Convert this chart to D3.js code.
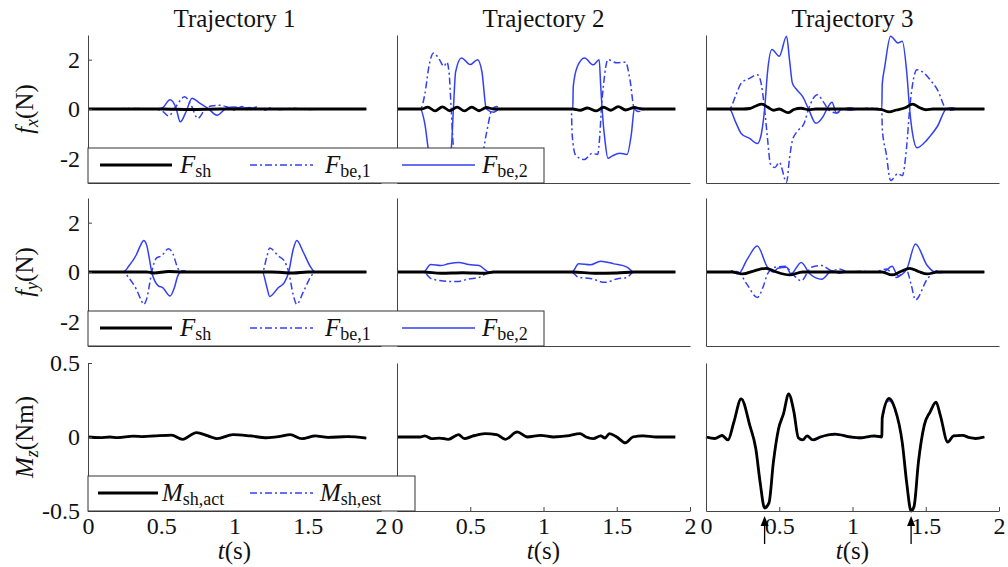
<!DOCTYPE html>
<html lang="en">
<head>
<meta charset="utf-8">
<title>Trajectory forces and moments</title>
<script src="https://d3js.org/d3.v7.min.js"></script>
<style>
  body { margin: 0; background: #fff; }
  svg { width: 1008px; height: 567px; display: block; }
  svg text { font-family: "Liberation Serif", "DejaVu Serif"; fill: #111; }
  .domain, .tick line { stroke: #444; }
</style>
</head>
<body>
<svg></svg>
<script>
// ---- tick labels / categories ----
const titles = ["Trajectory 1", "Trajectory 2", "Trajectory 3"];
const xTicks = [0, 0.5, 1, 1.5, 2];
const forceTicks = [-2, 0, 2];
const momentTicks = [-0.5, 0, 0.5];
const arrowTimes = [0.4, 1.4];   // marked instants in trajectory 3

// ---- series, [t (s), value] ----
// trajectory 1, f_x
const t1FxSh  = [[0,0],[0.5,0],[0.7,-0.02],[0.9,0],[1.9,0]];
const t1FxBe1 = [[0,0],[0.15,0],[0.3,0.02],[0.45,0],[0.51,-0.1],[0.55,-0.28],[0.6,0.1],[0.66,0.5],[0.7,0.2],[0.75,-0.38],[0.79,-0.1],[0.84,0.12],[0.9,0.15],[0.95,0.08],[1.0,-0.05],[1.05,0.1],[1.1,-0.05],[1.15,0.08],[1.2,-0.05],[1.25,0.05],[1.3,-0.03],[1.4,0.03],[1.5,-0.02],[1.6,0],[1.9,0]];
const t1FxBe2 = [[0,0],[0.48,0],[0.51,0.05],[0.56,0.37],[0.6,0.05],[0.63,-0.52],[0.67,-0.1],[0.71,0.44],[0.76,0.25],[0.82,0.02],[0.88,-0.25],[0.95,0.05],[1.0,0.08],[1.05,0.02],[1.1,0.06],[1.15,0],[1.9,0]];
// trajectory 1, f_y
const t1FySh  = [[0,0],[0.4,0],[0.45,-0.04],[0.55,0.02],[0.65,0],[1.25,0],[1.4,-0.04],[1.5,0],[1.9,0]];
const t1FyBe1 = [[0,0],[0.24,0],[0.28,-0.25],[0.33,-0.7],[0.36,-1.1],[0.38,-1.31],[0.40,-1.1],[0.42,-0.5],[0.435,0],[0.47,0.58],[0.5,0.65],[0.55,0.94],[0.58,0.73],[0.61,0.2],[0.63,0],[0.65,0.05],[0.68,0],[1.19,0],[1.22,0.6],[1.24,0.97],[1.3,0.65],[1.34,0.45],[1.37,0],[1.4,-0.9],[1.425,-1.31],[1.47,-0.8],[1.52,-0.2],[1.55,0],[1.9,0]];
const t1FyBe2 = [[0,0],[0.24,0],[0.28,0.25],[0.33,0.7],[0.36,1.1],[0.38,1.28],[0.40,1.1],[0.42,0.5],[0.435,0],[0.48,-0.56],[0.51,-0.63],[0.56,-0.97],[0.59,-0.63],[0.61,-0.2],[0.63,0],[0.65,0.05],[0.68,0],[1.19,0],[1.22,-0.6],[1.24,-0.99],[1.3,-0.63],[1.34,-0.43],[1.37,0],[1.4,0.9],[1.425,1.28],[1.47,0.8],[1.52,0.2],[1.55,0],[1.9,0]];
// trajectory 1, M_z
const t1MzAct = [[0,0],[0.08,-0.004],[0.15,0],[0.2,-0.004],[0.31,0.006],[0.38,0.003],[0.45,0.007],[0.57,0.013],[0.646,-0.016],[0.74,0.03],[0.82,0.007],[0.88,-0.011],[0.99,0.016],[1.11,0.007],[1.22,-0.005],[1.31,0.004],[1.38,0.016],[1.46,-0.011],[1.55,0.007],[1.64,-0.002],[1.77,0.002],[1.9,-0.007]];
const t1MzEst = [[0,0.002],[0.08,-0.002],[0.15,0.002],[0.2,-0.006],[0.31,0.004],[0.38,0.006],[0.45,0.004],[0.57,0.01],[0.646,-0.012],[0.74,0.028],[0.82,0.004],[0.88,-0.014],[0.99,0.013],[1.11,0.01],[1.22,-0.008],[1.31,0.007],[1.38,0.013],[1.46,-0.014],[1.55,0.004],[1.64,-0.005],[1.77,0.005],[1.9,-0.004]];

// trajectory 2, f_x
const t2FxSh  = [[0,0],[0.17,0],[0.21,0.08],[0.26,-0.08],[0.31,0.09],[0.36,-0.07],[0.41,0.08],[0.46,-0.08],[0.51,0.08],[0.56,-0.07],[0.61,0.06],[0.66,0],[1.2,0],[1.25,-0.05],[1.3,0.04],[1.36,-0.08],[1.41,0.07],[1.46,-0.05],[1.51,0.1],[1.56,-0.04],[1.62,0.06],[1.67,0],[1.9,0]];
const t2FxBe1 = [[0,0],[0.16,0],[0.19,0.6],[0.22,1.8],[0.25,2.27],[0.29,2.0],[0.32,1.73],[0.34,1.9],[0.355,1.5],[0.37,0],[0.385,-1.5],[0.41,-2.0],[0.45,-2.2],[0.5,-1.85],[0.55,-2.1],[0.58,-1.9],[0.61,-1.0],[0.65,0],[0.68,0.1],[0.72,0],[1.19,0],[1.195,-1.0],[1.22,-1.88],[1.28,-2.05],[1.33,-1.8],[1.37,-1.84],[1.385,-1.0],[1.395,0],[1.41,1.0],[1.44,2.0],[1.5,1.87],[1.56,1.9],[1.59,1.2],[1.62,0],[1.65,-0.1],[1.7,0],[1.9,0]];
const t2FxBe2 = [[0,0],[0.16,0],[0.19,-0.6],[0.22,-1.8],[0.26,-2.1],[0.3,-1.85],[0.34,-2.05],[0.37,-1.6],[0.385,0],[0.40,1.5],[0.44,2.07],[0.5,1.8],[0.55,2.0],[0.58,1.5],[0.61,0],[0.66,-0.13],[0.7,0],[1.2,0],[1.203,0.9],[1.23,1.7],[1.28,2.07],[1.34,1.79],[1.38,2.0],[1.39,1.0],[1.40,0],[1.42,-1.3],[1.44,-2.0],[1.47,-1.9],[1.52,-1.79],[1.57,-1.84],[1.6,-1.0],[1.62,0],[1.65,0.05],[1.7,0],[1.9,0]];
// trajectory 2, f_y
const t2FySh  = [[0,0],[0.18,0],[0.3,-0.05],[0.45,-0.03],[0.6,-0.05],[0.66,0],[1.2,0],[1.35,-0.05],[1.5,-0.04],[1.62,0],[1.9,0]];
const t2FyBe1 = [[0,0],[0.18,0],[0.23,-0.26],[0.30,-0.35],[0.41,-0.39],[0.49,-0.28],[0.56,-0.22],[0.61,-0.05],[0.625,0],[1.19,0],[1.24,-0.22],[1.32,-0.26],[1.42,-0.42],[1.50,-0.28],[1.57,-0.22],[1.615,0],[1.9,0]];
const t2FyBe2 = [[0,0],[0.18,0],[0.23,0.3],[0.30,0.26],[0.35,0.33],[0.42,0.39],[0.49,0.3],[0.56,0.26],[0.61,0.05],[0.625,0],[1.195,0],[1.24,0.33],[1.32,0.29],[1.39,0.44],[1.48,0.33],[1.57,0.2],[1.615,0],[1.9,0]];
// trajectory 2, M_z
const t2MzAct = [[0,0],[0.157,0],[0.19,0.007],[0.237,-0.011],[0.29,-0.007],[0.35,-0.016],[0.42,0.016],[0.46,-0.011],[0.52,0.007],[0.6,0.023],[0.68,0.016],[0.74,-0.016],[0.82,0.034],[0.89,0],[0.98,0.011],[1.07,0],[1.16,0.007],[1.25,0.023],[1.29,0],[1.34,-0.011],[1.39,0.007],[1.42,-0.007],[1.45,0.023],[1.5,0],[1.56,-0.04],[1.61,0],[1.68,0.007],[1.77,0],[1.9,0]];
const t2MzEst = [[0,0.002],[0.157,0.002],[0.19,0.01],[0.237,-0.014],[0.29,-0.004],[0.35,-0.012],[0.42,0.013],[0.46,-0.008],[0.52,0.01],[0.6,0.02],[0.68,0.012],[0.74,-0.013],[0.82,0.03],[0.89,0.003],[0.98,0.008],[1.07,0.003],[1.16,0.01],[1.25,0.02],[1.29,0.004],[1.34,-0.008],[1.39,0.01],[1.42,-0.004],[1.45,0.02],[1.5,0.004],[1.56,-0.035],[1.61,0.003],[1.68,0.01],[1.77,0.002],[1.9,0.001]];

// trajectory 3, f_x
const t3FxSh  = [[0,0],[0.25,0],[0.3,0.02],[0.34,0.12],[0.38,0.2],[0.42,0.08],[0.46,-0.05],[0.5,0],[0.56,-0.15],[0.6,-0.02],[0.65,0.03],[0.7,-0.03],[0.75,0],[1.15,0],[1.2,-0.03],[1.25,-0.12],[1.3,-0.04],[1.36,0.05],[1.41,0.2],[1.46,0.05],[1.5,-0.03],[1.55,0],[1.9,0]];
const t3FxBe1 = [[0,0],[0.16,0],[0.2,0.5],[0.24,1.04],[0.30,1.25],[0.35,1.39],[0.37,1.2],[0.40,0],[0.42,-1.2],[0.44,-2.23],[0.47,-2.37],[0.50,-2.16],[0.55,-2.97],[0.57,-2.0],[0.59,-1.27],[0.62,-0.93],[0.67,-0.58],[0.70,0],[0.76,0.58],[0.8,0.3],[0.84,-0.05],[0.89,-0.16],[0.94,0],[0.98,0.05],[1.05,0],[1.1,0.03],[1.2,0],[1.203,-0.8],[1.23,-1.8],[1.26,-2.9],[1.31,-2.62],[1.34,-2.7],[1.37,-1.5],[1.39,0],[1.41,1.0],[1.44,1.59],[1.49,1.45],[1.53,1.18],[1.58,0.78],[1.64,0],[1.67,-0.05],[1.72,0],[1.9,0]];
const t3FxBe2 = [[0,0],[0.16,0],[0.2,-0.5],[0.24,-0.99],[0.30,-1.2],[0.35,-1.4],[0.37,-1.2],[0.40,0],[0.42,1.5],[0.45,2.41],[0.50,2.14],[0.55,2.95],[0.57,2.0],[0.59,1.04],[0.62,0.78],[0.66,0.5],[0.70,0],[0.75,-0.58],[0.8,-0.3],[0.83,0.05],[0.86,0.27],[0.89,-0.16],[0.93,0],[0.98,-0.05],[1.05,0],[1.2,0],[1.203,1.0],[1.22,1.7],[1.26,2.95],[1.31,2.68],[1.34,2.75],[1.37,1.5],[1.39,0],[1.41,-1.0],[1.44,-1.57],[1.49,-1.37],[1.53,-1.1],[1.58,-0.7],[1.64,0],[1.68,0.05],[1.72,0],[1.9,0]];
// trajectory 3, f_y
const t3FySh  = [[0,0],[0.18,0],[0.25,-0.08],[0.33,0.05],[0.41,0.15],[0.47,0.02],[0.57,-0.12],[0.66,0],[1.2,0],[1.27,-0.12],[1.33,0.02],[1.39,0.15],[1.45,0.02],[1.51,-0.08],[1.58,0],[1.9,0]];
const t3FyBe1 = [[0,0],[0.16,0],[0.18,0.05],[0.22,0],[0.28,-0.5],[0.35,-1.03],[0.39,-0.6],[0.42,-0.08],[0.47,0.19],[0.54,0.23],[0.59,-0.08],[0.65,-0.35],[0.72,0.19],[0.79,0.26],[0.86,0.05],[0.91,0.12],[0.97,0],[1.05,0.03],[1.15,0],[1.23,0.12],[1.30,-0.22],[1.37,0.05],[1.40,-0.5],[1.43,-1.13],[1.51,-0.29],[1.58,0.05],[1.62,0],[1.9,0]];
const t3FyBe2 = [[0,0],[0.18,0],[0.22,-0.08],[0.28,0.5],[0.35,1.05],[0.42,0.19],[0.46,0],[0.49,0.15],[0.55,0.19],[0.58,-0.08],[0.65,0.39],[0.71,-0.08],[0.79,-0.29],[0.86,0.05],[0.91,-0.05],[0.96,0],[1.21,0],[1.27,0.23],[1.31,-0.15],[1.37,0.12],[1.43,1.14],[1.51,0.26],[1.56,0],[1.6,-0.03],[1.65,0],[1.9,0]];
// trajectory 3, M_z
const t3MzAct = [[0,0],[0.06,-0.01],[0.11,0.01],[0.15,-0.02],[0.19,0.1],[0.24,0.258],[0.30,0.075],[0.34,-0.08],[0.37,-0.31],[0.40,-0.48],[0.43,-0.445],[0.46,-0.17],[0.495,0.054],[0.53,0.16],[0.564,0.292],[0.60,0.17],[0.63,-0.005],[0.66,-0.02],[0.69,0.007],[0.73,-0.02],[0.78,0],[0.88,0.02],[0.99,0],[1.05,-0.005],[1.15,0.007],[1.2,0],[1.203,0.13],[1.25,0.26],[1.29,0.19],[1.34,-0.04],[1.37,-0.31],[1.40,-0.5],[1.42,-0.47],[1.45,-0.17],[1.49,0.08],[1.53,0.17],[1.57,0.236],[1.60,0.145],[1.65,-0.035],[1.69,0.007],[1.75,0.011],[1.80,-0.005],[1.84,-0.01],[1.9,0]];
const t3MzEst = [[0,0.003],[0.06,-0.008],[0.11,0.012],[0.15,-0.016],[0.19,0.105],[0.24,0.265],[0.30,0.08],[0.34,-0.075],[0.37,-0.3],[0.40,-0.47],[0.43,-0.44],[0.46,-0.165],[0.495,0.06],[0.53,0.165],[0.564,0.285],[0.60,0.165],[0.63,0],[0.66,-0.015],[0.69,0.01],[0.73,-0.025],[0.78,-0.004],[0.88,0.016],[0.99,-0.004],[1.05,-0.01],[1.15,0.003],[1.2,-0.004],[1.203,0.12],[1.25,0.245],[1.29,0.18],[1.34,-0.045],[1.37,-0.3],[1.40,-0.49],[1.42,-0.46],[1.45,-0.165],[1.49,0.075],[1.53,0.165],[1.57,0.228],[1.60,0.14],[1.65,-0.03],[1.69,0.01],[1.75,0.014],[1.80,-0.002],[1.84,-0.006],[1.9,0.002]];

// ---- layout ----
const FONT = '"Liberation Serif", "DejaVu Serif"';
const blue = "#3340f2";
const colX = [88, 397, 706], colW = 293;
const rowY = [35, 198, 363], rowH = 148;

const styles = {
  sh:  {stroke: "#000", width: 2.8, dash: null},
  be1: {stroke: blue, width: 1.5, dash: "7,3,2,3"},
  be2: {stroke: blue, width: 1.5, dash: null}
};
styles.act = styles.sh;
styles.est = styles.be1;

const rows = [
  {domain: [-3, 3], ticks: forceTicks, sym: "f", sub: "x", unit: "(N)",
   keys: ["be1", "be2", "sh"],
   data: [[t1FxBe1, t1FxBe2, t1FxSh], [t2FxBe1, t2FxBe2, t2FxSh], [t3FxBe1, t3FxBe2, t3FxSh]]},
  {domain: [-3, 3], ticks: forceTicks, sym: "f", sub: "y", unit: "(N)",
   keys: ["be1", "be2", "sh"],
   data: [[t1FyBe1, t1FyBe2, t1FySh], [t2FyBe1, t2FyBe2, t2FySh], [t3FyBe1, t3FyBe2, t3FySh]]},
  {domain: [-0.5, 0.5], ticks: momentTicks, sym: "M", sub: "z", unit: "(Nm)",
   keys: ["est", "act"],
   data: [[t1MzEst, t1MzAct], [t2MzEst, t2MzAct], [t3MzEst, t3MzAct]]}
];

const legends = [
  {row: 0, width: 456, items: [
    {key: "sh", sym: "F", sub: "sh", x0: 12, x1: 84, tx: 92},
    {key: "be1", sym: "F", sub: "be,1", x0: 162, x1: 225, tx: 237},
    {key: "be2", sym: "F", sub: "be,2", x0: 314, x1: 387, tx: 394}]},
  {row: 1, width: 456, items: [
    {key: "sh", sym: "F", sub: "sh", x0: 12, x1: 84, tx: 92},
    {key: "be1", sym: "F", sub: "be,1", x0: 162, x1: 225, tx: 237},
    {key: "be2", sym: "F", sub: "be,2", x0: 314, x1: 387, tx: 394}]},
  {row: 2, width: 327, items: [
    {key: "act", sym: "M", sub: "sh,act", x0: 10, x1: 70, tx: 74},
    {key: "est", sym: "M", sub: "sh,est", x0: 162, x1: 225, tx: 232}]}
];

const svg = d3.select("svg");
const x = d3.scaleLinear().domain([0, 2]).range([0, colW]);

rows.forEach((row, r) => {
  const y = d3.scaleLinear().domain(row.domain).range([rowH, 0]);
  const line = d3.line().x(d => x(d[0])).y(d => y(d[1])).curve(d3.curveMonotoneX);

  // y label
  const yl = svg.append("text")
    .attr("transform", `translate(33,${rowY[r] + rowH / 2}) rotate(-90)`)
    .attr("text-anchor", "middle")
    .style("font-size", "25px");
  yl.append("tspan").attr("font-style", "italic").text(row.sym);
  yl.append("tspan").attr("font-style", "italic").style("font-size", "18px").attr("dy", 5).text(row.sub);
  yl.append("tspan").attr("dy", -5).text(row.unit);

  for (let c = 0; c < 3; c++) {
    const g = svg.append("g").attr("transform", `translate(${colX[c]},${rowY[r]})`);

    g.selectAll("path.series")
      .data(row.data[c])
      .join("path")
      .attr("class", "series")
      .attr("fill", "none")
      .attr("stroke", (d, i) => styles[row.keys[i]].stroke)
      .attr("stroke-width", (d, i) => styles[row.keys[i]].width)
      .attr("stroke-dasharray", (d, i) => styles[row.keys[i]].dash)
      .attr("stroke-linejoin", "round")
      .attr("d", line);

    g.append("g")
      .call(d3.axisLeft(y).tickValues(c === 0 ? row.ticks : []).tickSize(-4).tickSizeOuter(0)
        .tickPadding(8).tickFormat(d => String(d)))
      .attr("font-family", FONT).attr("font-size", 24);

    g.append("g")
      .attr("transform", `translate(0,${rowH})`)
      .call(d3.axisBottom(x).tickValues(r === 2 ? xTicks : []).tickSize(-4).tickSizeOuter(0)
        .tickPadding(6).tickFormat(d => String(d)))
      .attr("font-family", FONT).attr("font-size", 24);

    if (r === 0) {
      svg.append("text")
        .attr("x", colX[c] + colW / 2).attr("y", 27)
        .attr("text-anchor", "middle")
        .style("font-size", "25px")
        .text(titles[c]);
    }
    if (r === 2) {
      const xl = svg.append("text")
        .attr("x", colX[c] + colW / 2).attr("y", 559)
        .attr("text-anchor", "middle")
        .style("font-size", "25px");
      xl.append("tspan").attr("font-style", "italic").text("t");
      xl.append("tspan").text("(s)");
    }
    if (r === 2 && c === 2) {
      const ar = g.selectAll("g.arrow").data(arrowTimes).join("g")
        .attr("class", "arrow")
        .attr("transform", d => `translate(${x(d)},${rowH})`);
      ar.append("line").attr("y1", 33).attr("y2", 12).attr("stroke", "#000").attr("stroke-width", 1.3);
      ar.append("path").attr("d", "M0,5 L-4,15 L4,15 Z").attr("fill", "#000");
    }
  }
});

// legends on top of the panels
legends.forEach(lg => {
  const top = rowY[lg.row] + rowH - 35;
  const g = svg.append("g").attr("transform", `translate(${colX[0]},${top})`);
  g.append("rect").attr("width", lg.width).attr("height", 35)
    .attr("fill", "#fff").attr("stroke", "#333").attr("stroke-width", 1);
  lg.items.forEach(it => {
    const s = styles[it.key];
    g.append("line").attr("x1", it.x0).attr("x2", it.x1).attr("y1", 17).attr("y2", 17)
      .attr("stroke", s.stroke).attr("stroke-width", s.width).attr("stroke-dasharray", s.dash);
    const t = g.append("text").attr("x", it.tx).attr("y", 25).style("font-size", "25px");
    t.append("tspan").attr("font-style", "italic").text(it.sym);
    t.append("tspan").style("font-size", "18px").attr("dy", 4).text(it.sub);
  });
});
</script>
</body>
</html>
